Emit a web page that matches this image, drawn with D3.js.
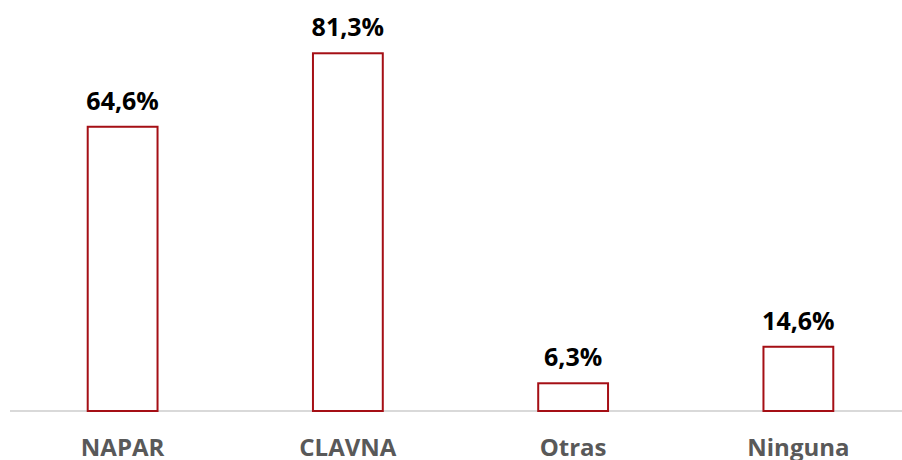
<!DOCTYPE html>
<html>
<head>
<meta charset="utf-8">
<script src="https://d3js.org/d3.v7.min.js"></script>
<style>
  body { margin: 0; background: #fff; }
  text { font-family: "Open Sans", "Liberation Sans", sans-serif; font-weight: bold; }
</style>
</head>
<body>
<script>
var categories = ["NAPAR", "CLAVNA", "Otras", "Ninguna"]
var values = [64.6, 81.3, 6.3, 14.6]
var labels = ["64,6%", "81,3%", "6,3%", "14,6%"]

var width = 902, height = 460
var baseY = 411

var svg = d3.select("body").append("svg")
    .attr("width", width)
    .attr("height", height)

var x = d3.scaleBand()
    .domain(categories)
    .range([10, 911])
    .paddingInner(0.69)
    .paddingOuter(0.345)

var y = d3.scaleLinear()
    .domain([0, 100])
    .range([baseY, baseY - 440])

// baseline
svg.append("line")
    .attr("x1", 10).attr("x2", 911)
    .attr("y1", baseY).attr("y2", baseY)
    .attr("stroke", "#d9d9d9")
    .attr("stroke-width", 2)

svg.selectAll(".bar")
    .data(values)
  .enter().append("rect")
    .attr("class", "bar")
    .attr("x", function(d, i) { return x(categories[i]) })
    .attr("y", function(d) { return y(d) })
    .attr("width", x.bandwidth())
    .attr("height", function(d) { return baseY - y(d) })
    .attr("fill", "#fff")
    .attr("stroke", "#a50f15")
    .attr("stroke-width", 2)

svg.selectAll(".val")
    .data(values)
  .enter().append("text")
    .attr("class", "val")
    .attr("x", function(d, i) { return x(categories[i]) + x.bandwidth() / 2 })
    .attr("y", function(d) { return y(d) - 17 })
    .attr("text-anchor", "middle")
    .style("font-size", "25px")
    .attr("fill", "#000")
    .text(function(d, i) { return labels[i] })

svg.selectAll(".cat")
    .data(categories)
  .enter().append("text")
    .attr("class", "cat")
    .attr("x", function(d) { return x(d) + x.bandwidth() / 2 })
    .attr("y", 456)
    .attr("text-anchor", "middle")
    .style("font-size", "24px")
    .attr("fill", "#595959")
    .text(function(d) { return d })
</script>
</body>
</html>
